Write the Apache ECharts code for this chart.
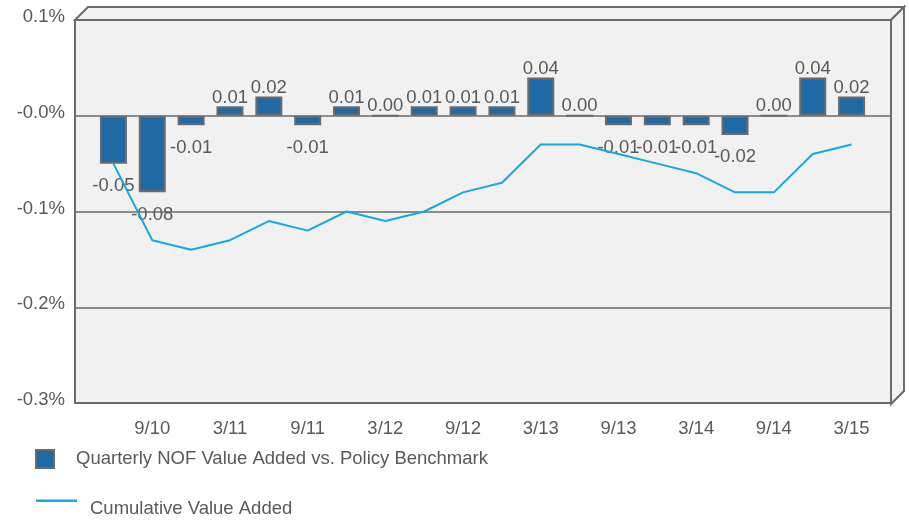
<!DOCTYPE html>
<html>
<head>
<meta charset="utf-8">
<script src="https://cdn.jsdelivr.net/npm/echarts@6/dist/echarts.min.js"></script>
<style>
  html, body { margin: 0; padding: 0; background: #fff; }
  #main { width: 909px; height: 523px; }
</style>
</head>
<body>
<div id="main"></div>
<script>
// quarters, 6/10 .. 3/15
var categories = ['6/10', '9/10', '12/10', '3/11', '6/11', '9/11', '12/11', '3/12', '6/12', '9/12',
    '12/12', '3/13', '6/13', '9/13', '12/13', '3/14', '6/14', '9/14', '12/14', '3/15'];
var quarterly = [-0.05, -0.08, -0.01, 0.01, 0.02, -0.01, 0.01, 0.00, 0.01, 0.01,
    0.01, 0.04, 0.00, -0.01, -0.01, -0.01, -0.02, 0.00, 0.04, 0.02];
var cumulative = [-0.05, -0.13, -0.14, -0.13, -0.11, -0.12, -0.10, -0.11, -0.10, -0.08,
    -0.07, -0.03, -0.03, -0.04, -0.05, -0.06, -0.08, -0.08, -0.04, -0.03];
var yLabels = ['-0.3%', '-0.2%', '-0.1%', '-0.0%', '0.1%'];

var barName = 'Quarterly NOF Value Added vs. Policy Benchmark';
var lineName = 'Cumulative Value Added';

var font = 'Liberation Sans, Arial, sans-serif';
var fs = 18.5;
var txt = '#595959';
var edge = '#6b6b6b';
var lineColor = '#12aae0';

var myChart = echarts.init(document.getElementById('main'));

var barData = quarterly.map(function(v) {
    return {
        value: v,
        label: v < 0 ? { position: 'bottom', distance: 13 } : { position: 'top', distance: -1 }
    };
});

var option = {
    animation: false,
    textStyle: { fontFamily: font },
    // fake 3d box: top and right faces
    graphic: [
        {
            type: 'polygon', z: -1,
            shape: { points: [[75, 20], [88, 7], [904, 7], [891, 20]] },
            style: { fill: '#f2f2f2', stroke: edge, lineWidth: 2 }
        },
        {
            type: 'polygon', z: -1,
            shape: { points: [[891, 20], [904, 7], [904, 391], [891, 404]] },
            style: { fill: '#f2f2f2', stroke: edge, lineWidth: 2 }
        }
    ],
    grid: [
        { left: 75, top: 20, width: 816, height: 383, show: true,
          backgroundColor: '#f1f1f1', borderColor: edge, borderWidth: 2 },
        { left: 94, top: 20, width: 777, height: 383 }
    ],
    legend: [
        {
            data: [{ name: barName, icon: 'rect' }], left: 35, top: 449, padding: 0,
            itemWidth: 18, itemHeight: 18,
            textStyle: { fontSize: fs, color: txt, fontFamily: font, padding: [0, 0, 0, 17] }
        },
        {
            // line sits a bit above the text, as in the original
            data: [{ name: lineName, icon: 'path://M0,0H41V2.5H0Z M20,17.95H20.02V18H20Z' }],
            left: 36, top: 499, padding: 0,
            itemWidth: 41, itemHeight: 18,
            itemStyle: { color: lineColor },
            textStyle: { fontSize: fs, color: txt, fontFamily: font, padding: [0, 0, 0, 8] }
        }
    ],
    xAxis: [
        { gridIndex: 0, type: 'value', show: false, min: 0, max: 1 },
        {
            gridIndex: 1, type: 'category', data: categories,
            axisLine: { show: false }, axisTick: { show: false },
            axisLabel: {
                interval: function(i) { return i % 2 === 1; },
                fontSize: fs, color: txt, fontFamily: font, margin: 16
            }
        }
    ],
    yAxis: [
        {
            gridIndex: 0, type: 'value', min: -0.3, max: 0.1, interval: 0.1,
            axisLine: { show: false }, axisTick: { show: false },
            splitLine: { lineStyle: { color: edge, width: 1.5 } },
            axisLabel: {
                fontSize: fs, color: txt, fontFamily: font, margin: 10,
                verticalAlign: 'bottom', lineHeight: 6,
                formatter: function(v, i) { return yLabels[i]; }
            }
        },
        { gridIndex: 1, type: 'value', min: -0.3, max: 0.1, show: false }
    ],
    series: [
        {
            name: barName, type: 'bar',
            xAxisIndex: 1, yAxisIndex: 1,
            barWidth: 27,
            itemStyle: { color: '#1f69a4', borderColor: edge, borderWidth: 2 },
            label: {
                show: true, fontSize: fs, color: txt, fontFamily: font,
                formatter: function(p) { return p.value.toFixed(2); }
            },
            data: barData
        },
        {
            name: lineName, type: 'line',
            xAxisIndex: 1, yAxisIndex: 1,
            symbol: 'none',
            lineStyle: { color: lineColor, width: 2 },
            itemStyle: { color: lineColor },
            data: cumulative,
            z: 3
        }
    ]
};

myChart.setOption(option);
</script>
</body>
</html>
